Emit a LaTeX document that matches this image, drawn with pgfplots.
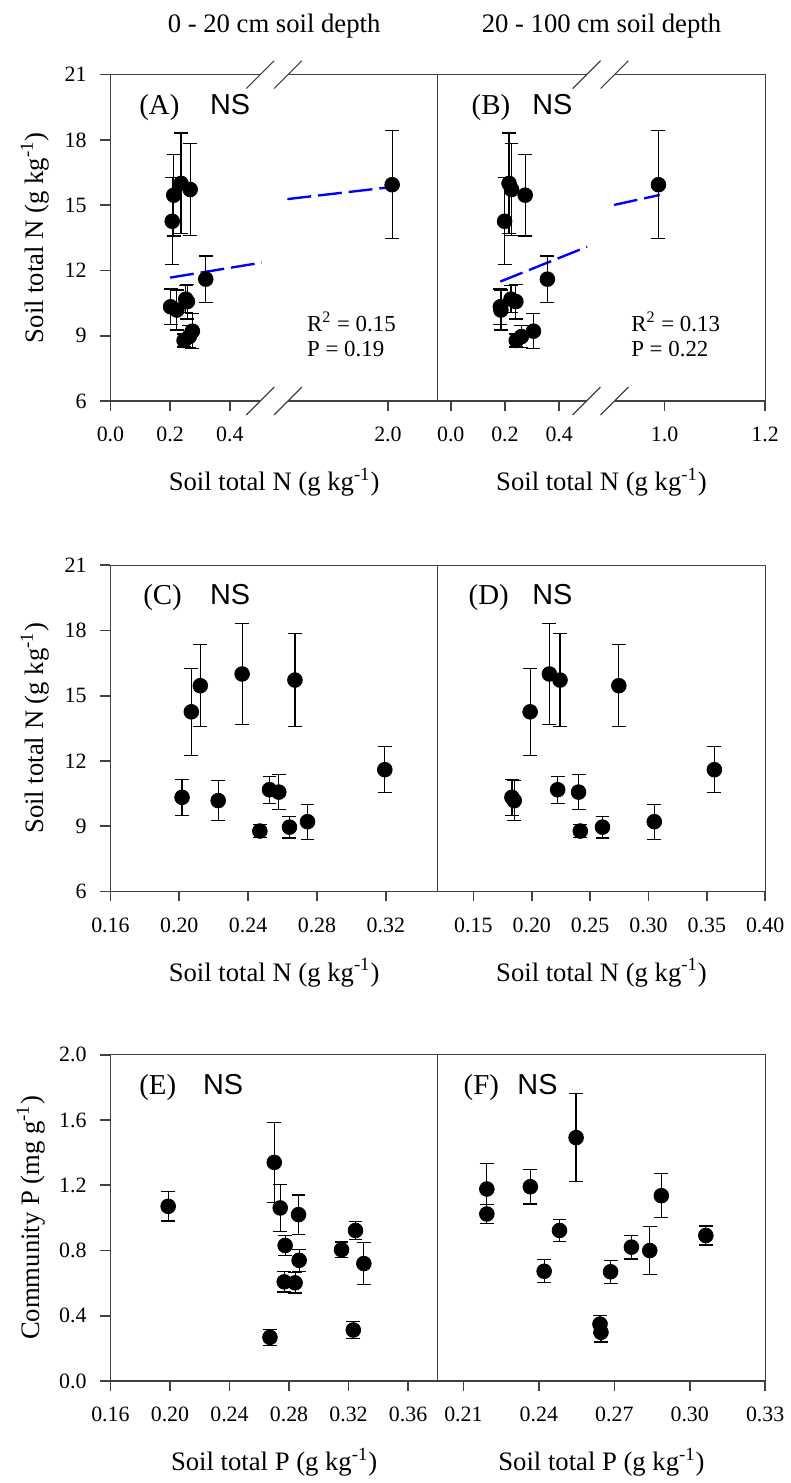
\documentclass[border=0pt]{standalone}
\usepackage{pgfplots}
\pgfplotsset{compat=1.18}
\usepackage{fontspec}
\setmainfont{Liberation Serif}
\newfontfamily\arial{Liberation Sans}

\definecolor{axisgray}{HTML}{404040}

\pgfplotsset{
  panel/.style={
    scale only axis, width=164.5pt, height=164pt,
    axis line style={axisgray, line width=0.6pt},
    every tick/.style={axisgray, line width=0.8pt},
    xtick pos=bottom, ytick pos=left,
    xtick align=outside, ytick align=outside, major tick length=5pt,
    ticklabel style={font=\fontsize{11}{11}\selectfont},
    xticklabel style={yshift=-4.5pt},
    yticklabel style={xshift=-3.5pt},
    /pgf/number format/assume math mode=true,
    clip=false, anchor=north west,
    label style={font=\fontsize{13.4}{16}\selectfont},
    xlabel style={at={(axis description cs:0.5,0)}, anchor=base, yshift=-45pt},
    ylabel style={at={([xshift=-38pt]axis description cs:0,0.5)}, anchor=center},
    title style={at={(0.5,1)}, anchor=base, yshift=15pt, font=\fontsize{13.4}{16}\selectfont},
  },
  pts/.style={only marks, mark=*, mark size=3.7pt, black,
    error bars/.cd, y dir=both, y explicit,
    error bar style={black, line width=0.6pt},
    error mark options={rotate=90, mark size=3.5pt, black, line width=0.6pt}},
  fit/.style={blue, line width=1.2pt, dash pattern=on 12pt off 3.5pt},
}
\newcommand{\paneltag}[3]{%
  \node[anchor=base west, font=\fontsize{14.5}{16}\selectfont] at ([xshift=#2, yshift=-20pt]rel axis cs:0,1) {(#1)};
  \node[anchor=base west, font=\arial\fontsize{14.5}{16}\selectfont] at ([xshift=#3, yshift=-20pt]rel axis cs:0,1) {NS};}
\newcommand{\brk}[2]{%
  \draw[white, line width=2pt] (#1) -- (#2);
  \draw[axisgray, line width=0.6pt] ([shift={(-7pt,-7pt)}]#1) -- ([shift={(7pt,7pt)}]#1);
  \draw[axisgray, line width=0.6pt] ([shift={(-7pt,-7pt)}]#2) -- ([shift={(7pt,7pt)}]#2);}

\begin{document}
\begin{tikzpicture}
\path (0,0) rectangle (395pt,-741.5pt);

% (A) 0-20 cm, broken x axis (right part drawn on a compressed scale)
\begin{axis}[panel, at={(55.5pt,-37.5pt)},
  title={0 - 20 cm soil depth},
  xmin=0, xmax=1.097, ymin=6, ymax=21,
  xtick={0,0.2,0.4,0.93}, xticklabels={0.0,0.2,0.4,2.0},
  ytick={6,9,12,15,18,21},
  xlabel={Soil total N (g kg\textsuperscript{-1})},
  ylabel={Soil total N (g kg\textsuperscript{-1})}]
\addplot[fit] coordinates {(0.2,11.67) (0.507,12.36)};
\addplot[fit] coordinates {(0.593,15.28) (0.94,15.83)};
\addplot[pts] coordinates {
  (0.2016,10.33) +- (0,0.82)
  (0.2070,14.26) +- (0,2.00)
  (0.2122,15.46) +- (0,1.88)
  (0.2226,10.18) +- (0,0.92)
  (0.2365,16.00) +- (0,2.32)
  (0.2468,8.78) +- (0,0.30)
  (0.2524,10.68) +- (0,0.62)
  (0.2578,10.57) +- (0,0.80)
  (0.2640,8.96) +- (0,0.50)
  (0.2672,15.72) +- (0,2.13)
  (0.2745,9.21) +- (0,0.80)
  (0.3194,11.60) +- (0,1.06)
  (0.944,15.94) +- (0,2.48)};
\paneltag{A}{11pt}{46.5pt}
\node[anchor=base west, font=\fontsize{11.5}{12}\selectfont] at ([xshift=95.3pt, yshift=-129pt]rel axis cs:0,1) {R\textsuperscript{2} = 0.15};
\node[anchor=base west, font=\fontsize{11.5}{12}\selectfont] at ([xshift=95.3pt, yshift=-141.5pt]rel axis cs:0,1) {P = 0.19};
\coordinate (At1) at (axis cs:0.502,21);
\coordinate (At2) at (axis cs:0.595,21);
\coordinate (Ab1) at (axis cs:0.502,6);
\coordinate (Ab2) at (axis cs:0.595,6);
\end{axis}
\brk{At1}{At2}
\brk{Ab1}{Ab2}

% (B) 20-100 cm, broken x axis
\begin{axis}[panel, at={(220pt,-37.5pt)},
  title={20 - 100 cm soil depth},
  xmin=-0.0477, xmax=1.1596, ymin=6, ymax=21,
  xtick={0,0.2,0.4,0.789,1.1596}, xticklabels={0.0,0.2,0.4,1.0,1.2},
  ytick=\empty,
  xlabel={Soil total N (g kg\textsuperscript{-1})}]
\addplot[fit] coordinates {(0.183,11.49) (0.503,13.09)};
\addplot[fit] coordinates {(0.602,15.01) (0.771,15.47)};
\addplot[pts] coordinates {
  (0.1830,10.33) +- (0,0.82)
  (0.1850,10.18) +- (0,0.92)
  (0.1986,14.26) +- (0,2.00)
  (0.2151,16.00) +- (0,2.32)
  (0.2242,15.72) +- (0,2.13)
  (0.2222,10.68) +- (0,0.62)
  (0.2401,10.57) +- (0,0.80)
  (0.2416,8.78) +- (0,0.30)
  (0.2606,8.96) +- (0,0.50)
  (0.2746,15.46) +- (0,1.88)
  (0.3050,9.21) +- (0,0.80)
  (0.3565,11.60) +- (0,1.06)
  (0.766,15.94) +- (0,2.48)};
\paneltag{B}{13.5pt}{44pt}
\node[anchor=base west, font=\fontsize{11.5}{12}\selectfont] at ([xshift=93.7pt, yshift=-129pt]rel axis cs:0,1) {R\textsuperscript{2} = 0.13};
\node[anchor=base west, font=\fontsize{11.5}{12}\selectfont] at ([xshift=93.7pt, yshift=-141.5pt]rel axis cs:0,1) {P = 0.22};
\coordinate (Bt1) at (axis cs:0.501,21);
\coordinate (Bt2) at (axis cs:0.604,21);
\coordinate (Bb1) at (axis cs:0.501,6);
\coordinate (Bb2) at (axis cs:0.604,6);
\end{axis}
\brk{Bt1}{Bt2}
\brk{Bb1}{Bb2}

% (C)
\begin{axis}[panel, at={(55.5pt,-284pt)},
  xmin=0.16, xmax=0.3502, ymin=6, ymax=21,
  xtick={0.16,0.20,0.24,0.28,0.32}, xticklabels={0.16,0.20,0.24,0.28,0.32},
  ytick={6,9,12,15,18,21},
  xlabel={Soil total N (g kg\textsuperscript{-1})},
  ylabel={Soil total N (g kg\textsuperscript{-1})}]
\addplot[pts] coordinates {
  (0.2016,10.33) +- (0,0.82)
  (0.2070,14.26) +- (0,2.00)
  (0.2122,15.46) +- (0,1.88)
  (0.2226,10.18) +- (0,0.92)
  (0.2365,16.00) +- (0,2.32)
  (0.2468,8.78) +- (0,0.30)
  (0.2524,10.68) +- (0,0.62)
  (0.2578,10.57) +- (0,0.80)
  (0.2640,8.96) +- (0,0.50)
  (0.2672,15.72) +- (0,2.13)
  (0.2745,9.21) +- (0,0.80)
  (0.3194,11.60) +- (0,1.06)};
\paneltag{C}{13pt}{46.5pt}
\end{axis}

% (D)
\begin{axis}[panel, at={(220pt,-284pt)},
  xmin=0.1195, xmax=0.40, ymin=6, ymax=21,
  xtick={0.15,0.20,0.25,0.30,0.35,0.40}, xticklabels={0.15,0.20,0.25,0.30,0.35,0.40},
  ytick=\empty,
  xlabel={Soil total N (g kg\textsuperscript{-1})}]
\addplot[pts] coordinates {
  (0.1830,10.33) +- (0,0.82)
  (0.1850,10.18) +- (0,0.92)
  (0.1986,14.26) +- (0,2.00)
  (0.2151,16.00) +- (0,2.32)
  (0.2242,15.72) +- (0,2.13)
  (0.2222,10.68) +- (0,0.62)
  (0.2401,10.57) +- (0,0.80)
  (0.2416,8.78) +- (0,0.30)
  (0.2606,8.96) +- (0,0.50)
  (0.2746,15.46) +- (0,1.88)
  (0.3050,9.21) +- (0,0.80)
  (0.3565,11.60) +- (0,1.06)};
\paneltag{D}{12pt}{44pt}
\end{axis}

% (E)
\begin{axis}[panel, at={(55.5pt,-530pt)},
  xmin=0.16, xmax=0.38, ymin=0, ymax=2,
  xtick={0.16,0.20,0.24,0.28,0.32,0.36}, xticklabels={0.16,0.20,0.24,0.28,0.32,0.36},
  ytick={0,0.4,0.8,1.2,1.6,2.0}, yticklabels={0.0,0.4,0.8,1.2,1.6,2.0},
  xlabel={Soil total P (g kg\textsuperscript{-1})},
  ylabel={Community P (mg g\textsuperscript{-1})},
  ylabel style={at={([xshift=-40pt]axis description cs:0,0.5)}}]
\addplot[pts] coordinates {
  (0.1988,1.071) +- (0,0.090)
  (0.2672,0.268) +- (0,0.050)
  (0.2701,1.340) +- (0,0.245)
  (0.2741,1.061) +- (0,0.143)
  (0.2774,0.831) +- (0,0.063)
  (0.2768,0.608) +- (0,0.062)
  (0.2841,0.602) +- (0,0.062)
  (0.2864,1.020) +- (0,0.120)
  (0.2868,0.740) +- (0,0.067)
  (0.3153,0.805) +- (0,0.047)
  (0.3247,0.923) +- (0,0.053)
  (0.3232,0.313) +- (0,0.050)
  (0.3303,0.720) +- (0,0.130)};
\paneltag{E}{11pt}{43pt}
\end{axis}

% (F)
\begin{axis}[panel, at={(220pt,-530pt)},
  xmin=0.1998, xmax=0.33, ymin=0, ymax=2,
  xtick={0.21,0.24,0.27,0.30,0.33}, xticklabels={0.21,0.24,0.27,0.30,0.33},
  ytick=\empty,
  xlabel={Soil total P (g kg\textsuperscript{-1})}]
\addplot[pts] coordinates {
  (0.2193,1.177) +- (0,0.157)
  (0.2193,1.024) +- (0,0.056)
  (0.2366,1.191) +- (0,0.106)
  (0.2548,1.492) +- (0,0.270)
  (0.2482,0.923) +- (0,0.068)
  (0.2421,0.673) +- (0,0.070)
  (0.2643,0.349) +- (0,0.055)
  (0.2647,0.299) +- (0,0.060)
  (0.2685,0.670) +- (0,0.070)
  (0.2768,0.821) +- (0,0.073)
  (0.2841,0.800) +- (0,0.147)
  (0.2887,1.136) +- (0,0.134)
  (0.3064,0.892) +- (0,0.058)};
\paneltag{F}{9.5pt}{36.5pt}
\end{axis}
\end{tikzpicture}
\end{document}
